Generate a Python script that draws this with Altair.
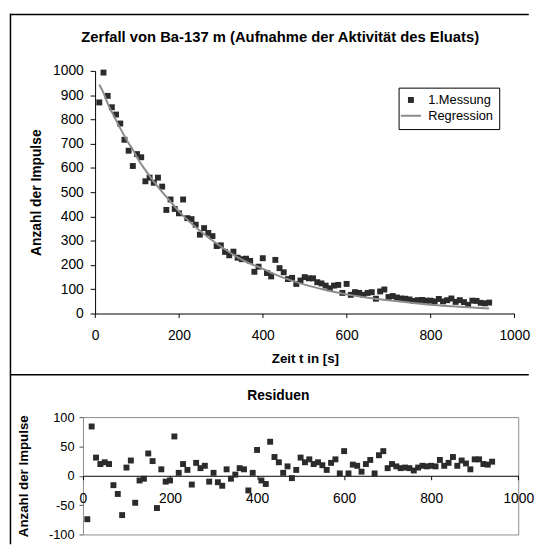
import altair as alt
import pandas as pd

# ---------------- data ----------------
T = [10, 20, 30, 40, 50, 60, 70, 80, 90, 100,
     110, 120, 130, 140, 150, 160, 170, 180, 190, 200,
     210, 220, 230, 240, 250, 260, 270, 280, 290, 300,
     310, 320, 330, 340, 350, 360, 370, 380, 390, 400,
     410, 420, 430, 440, 450, 460, 470, 480, 490, 500,
     510, 520, 530, 540, 550, 560, 570, 580, 590, 600,
     610, 620, 630, 640, 650, 660, 670, 680, 690, 700,
     710, 720, 730, 740, 750, 760, 770, 780, 790, 800,
     810, 820, 830, 840, 850, 860, 870, 880, 890, 900,
     910, 920, 930, 940]

MESSUNG = [870, 993, 897, 850, 820, 783, 716, 671, 608, 657,
           644, 545, 560, 539, 560, 523, 427, 470, 431, 413,
           470, 393, 389, 366, 325, 352, 332, 319, 278, 281,
           254, 240, 255, 230, 224, 226, 217, 172, 193, 228,
           167, 153, 221, 187, 170, 142, 147, 122, 136, 150,
           145, 145, 129, 124, 115, 104, 115, 118, 85, 122,
           77, 88, 85, 77, 85, 88, 61, 91, 99, 68,
           72, 66, 62, 61, 58, 52, 55, 56, 53, 53,
           50, 60, 50, 55, 62, 48, 55, 47, 36, 53,
           52, 44, 42, 45]

RESIDUEN = [-74, 84, 31, 20, 23, 20, -16, -31, -67, 14,
            26, -46, -8, -5, 38, 25, -55, 11, -10, -8,
            67, 5, 20, 10, -15, 22, 13, 17, -10, 5,
            -11, -17, 11, -5, 2, 13, 11, -25, 5, 44,
            -8, -14, 58, 32, 23, 5, 16, -4, 10, 31,
            23, 28, 20, 23, 18, 10, 22, 28, 4, 42,
            4, 19, 17, 7, 20, 27, 4, 35, 42, 13,
            20, 16, 13, 14, 13, 9, 14, 17, 16, 17,
            16, 27, 17, 22, 32, 17, 26, 21, 11, 28,
            28, 20, 19, 24]

REG_T = [10, 20, 30, 40, 50, 60, 70, 80, 90, 100, 120, 150, 180, 200, 250,
         300, 350, 400, 450, 500, 550, 600, 650, 700, 750, 800, 850, 900, 940]
REG_V = [944, 909, 866, 830, 797, 763, 732, 702, 675, 643, 591, 522, 461, 421, 341,
         276, 222, 184, 147, 119, 97, 79, 65, 55, 45, 36, 30, 25, 21]

X_TICKS = [0, 200, 400, 600, 800, 1000]
Y_TICKS_TOP = [0, 100, 200, 300, 400, 500, 600, 700, 800, 900, 1000]
Y_TICKS_RES = [-100, -50, 0, 50, 100]
SERIES = ["1.Messung", "Regression"]

TITLE_TOP = "Zerfall von Ba-137 m (Aufnahme der Aktivität des Eluats)"
TITLE_RES = "Residuen"
Y_TITLE = "Anzahl der Impulse"
X_TITLE = "Zeit t in [s]"

# ---------------- styling ----------------
FONT = "Liberation Sans"
DARK = "#2b2b2b"
GREY = "#8c8c8c"
SQ = "M-0.5,-0.5H0.5V0.5H-0.5Z"
LN = "M-1.7,-0.17H1.7V0.17H-1.7Z"

W = 441.3
H_TOP = 246
H_RES = 119
X0 = 12.3

df = pd.DataFrame({"t": T, "impulse": MESSUNG, "series": SERIES[0]})
reg = pd.DataFrame({"t": REG_T, "impulse": REG_V})
res = pd.DataFrame({"t": T, "resid": RESIDUEN})
one = pd.DataFrame({"k": [0]})

xs_top = alt.Scale(domain=[0, 1000], range=[X0, W - 4])
ys_top = alt.Scale(domain=[0, 1000])

x_axis_top = alt.Axis(values=X_TICKS, title=X_TITLE, grid=False, labelFlush=False,
                      labelOverlap=False, tickSize=4, labelPadding=11, labelFontSize=14,
                      titleFontSize=13.5, titleFontWeight="bold", titleX=225, titleY=45.3,
                      titleBaseline="middle", titleAlign="center", domainColor="black",
                      tickColor="black", format="d")
y_axis_top = alt.Axis(values=Y_TICKS_TOP, title=Y_TITLE, grid=False, offset=-X0,
                      tickSize=5, labelPadding=7, labelFontSize=14, titleFontSize=14,
                      titleFontWeight="bold", titleX=-59.3, titleY=H_TOP / 2,
                      titleAngle=270, titleAlign="center", titleBaseline="middle",
                      domainColor="black", tickColor="black", format="d")

leg = alt.Legend(title=None, orient="none", legendX=320, legendY=17, padding=6,
                 strokeColor="black", fillColor="white", symbolSize=144,
                 labelFont=FONT, labelFontSize=13, labelColor="black",
                 labelOffset=11, rowPadding=2, symbolStrokeWidth=0)

pts = alt.Chart(df).mark_point(filled=True, size=144, opacity=1, strokeWidth=0).encode(
    x=alt.X("t:Q", scale=xs_top, axis=x_axis_top),
    y=alt.Y("impulse:Q", scale=ys_top, axis=y_axis_top),
    shape=alt.Shape("series:N", scale=alt.Scale(domain=SERIES, range=[SQ, LN]), legend=leg),
    color=alt.Color("series:N", scale=alt.Scale(domain=SERIES, range=[DARK, GREY]), legend=leg),
)

line = alt.Chart(reg).mark_line(color=GREY, strokeWidth=2, interpolate="monotone").encode(
    x=alt.X("t:Q", scale=xs_top, axis=x_axis_top),
    y=alt.Y("impulse:Q", scale=ys_top, axis=y_axis_top),
)

title_top = alt.Chart(one).mark_text(text=TITLE_TOP, font=FONT, fontSize=15, fontWeight="bold",
                                     color="black", align="center", baseline="middle").encode(
    x=alt.value(200), y=alt.value(-34))

frame_top = alt.Chart(one).mark_rule(color="black", strokeWidth=1.5).encode(
    x=alt.value(-74), x2=alt.value(452), y=alt.value(-57.2))
frame_left = alt.Chart(one).mark_rule(color="black", strokeWidth=1.5).encode(
    x=alt.value(-73.5), y=alt.value(-57.9), y2=alt.value(480))
frame_sep = alt.Chart(one).mark_rule(color="black", strokeWidth=1.5).encode(
    x=alt.value(-74), x2=alt.value(452), y=alt.value(308))

top = alt.layer(pts, line, title_top, frame_top, frame_left, frame_sep).properties(
    width=W, height=H_TOP, view=alt.ViewBackground(stroke="transparent"))

# ---------------- residual panel ----------------
xs_res = alt.Scale(domain=[0, 1000])
ys_res = alt.Scale(domain=[-100, 100])

x_axis_res = alt.Axis(values=X_TICKS, title=None, grid=False, offset=-(H_RES / 2),
                      labelFlush=False, labelOverlap=False, tickSize=4, labelPadding=12,
                      labelFontSize=14, domainColor="black", tickColor="black", format="d")
y_axis_res = alt.Axis(values=Y_TICKS_RES, title=Y_TITLE, grid=False, domain=False,
                      tickSize=4, tickColor="#555555", labelPadding=5, labelFontSize=13,
                      labelExpr="'' + datum.value",
                      titleFontSize=13.5, titleFontWeight="bold", titleX=-60, titleY=H_RES / 2,
                      titleAngle=270, titleAlign="center", titleBaseline="middle")

res_pts = alt.Chart(res).mark_point(shape=SQ, filled=True, size=144, color=DARK, opacity=1,
                                    strokeWidth=0).encode(
    x=alt.X("t:Q", scale=xs_res, axis=x_axis_res),
    y=alt.Y("resid:Q", scale=ys_res, axis=y_axis_res),
)

title_res = alt.Chart(one).mark_text(text=TITLE_RES, font=FONT, fontSize=14, fontWeight="bold",
                                     color="black", align="center", baseline="middle").encode(
    x=alt.value(198), y=alt.value(-21.7))

bottom = alt.layer(res_pts, title_res).properties(
    width=W, height=H_RES, view=alt.ViewBackground(stroke=GREY, strokeWidth=1))

chart = alt.vconcat(top, bottom, spacing=105, bounds="flush").properties(
    padding=0
).configure(font=FONT).configure_axis(
    labelFont=FONT, titleFont=FONT, labelColor="black", titleColor="black"
)

chart.save("out.html", embed_options={"renderer": "svg", "actions": False})
